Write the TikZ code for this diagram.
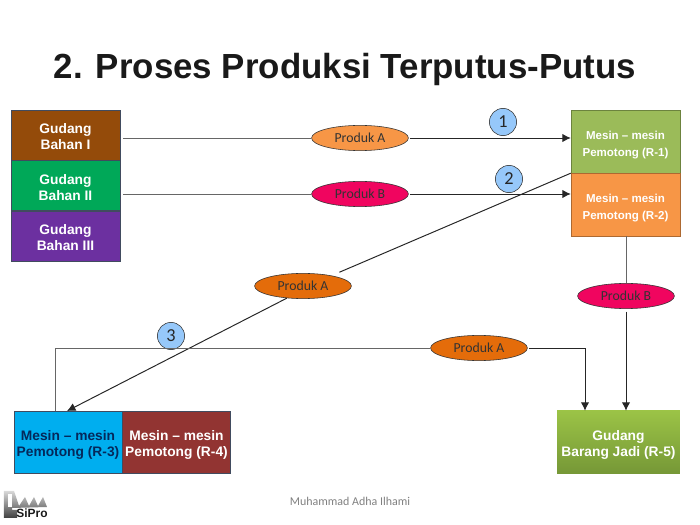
\documentclass[tikz,border=0pt]{standalone}
\usepackage{fontspec}
\setmainfont{Liberation Sans}
\newfontfamily\ovalfont{Carlito}
\usepackage{xcolor}
\definecolor{brownbox}{RGB}{148, 75, 10}
\definecolor{greenbox}{RGB}{0, 168, 88}
\definecolor{purplebox}{RGB}{108, 48, 160}
\definecolor{olivebox}{RGB}{155, 187, 89}
\definecolor{orangebox}{RGB}{247, 150, 70}
\definecolor{bluebox}{RGB}{0, 174, 239}
\definecolor{redbox}{RGB}{146, 52, 50}
\definecolor{pinkoval}{RGB}{240, 5, 95}
\definecolor{darkoval}{RGB}{228, 108, 10}
\definecolor{badgeblue}{RGB}{150, 200, 250}
\definecolor{titleblack}{RGB}{25, 25, 25}
\definecolor{slateline}{RGB}{65, 75, 95}
\definecolor{navytext}{RGB}{5, 40, 90}
\definecolor{jaditop}{RGB}{155, 195, 70}
\definecolor{jadibottom}{RGB}{118, 152, 55}
\newcommand{\topgap}[1]{\rule{0pt}{#1}}
\tikzset{
  boxA/.style={draw=#1!70!black, fill=#1, text=white, align=center, inner sep=0pt, font=\fontsize{9.8}{11.4}\selectfont\bfseries},
  oval/.style={ellipse, draw=black!80, fill=#1, minimum width=2.42cm, minimum height=0.63cm, inner sep=0pt, font=\ovalfont\fontsize{9.8}{11}\selectfont, text=black!80},
  badge/.style={circle, draw=black!80, fill=badgeblue, minimum size=0.68cm, inner sep=0pt, font=\ovalfont\fontsize{13}{15}\selectfont, text=black!85},
  wire/.style={draw=black!60, line width=0.7pt},
  tip/.style={draw=black!85, line width=0.7pt, -{Latex[length=6pt,width=6pt]}},
}
\usetikzlibrary{shapes.geometric,arrows.meta}
\begin{document}
\begin{tikzpicture}[x=0.025cm, y=-0.025cm]
  \useasboundingbox (0,0) rectangle (700,525);
  % Title
  \node[font=\fontsize{24.8}{30}\selectfont\bfseries, text=titleblack] (title) at (345,69) {2. Proses Produksi Terputus-Putus};

  % Gudang bahan
  \node[boxA=brownbox, draw=slateline, minimum width=2.72cm, minimum height=1.25cm] (gudangA) at (65.5,135) {\topgap{10pt}Gudang\\ Bahan I};
  \node[boxA=greenbox, draw=slateline, minimum width=2.72cm, minimum height=1.25cm] (gudangB) at (65.5,185.5) {\topgap{10pt}Gudang\\ Bahan II};
  \node[boxA=purplebox, draw=slateline, minimum width=2.72cm, minimum height=1.25cm] (gudangC) at (65.5,236) {\topgap{10pt}Gudang\\ Bahan III};

  % Mesin atas
  \node[boxA=olivebox, minimum width=2.72cm, minimum height=1.57cm, font=\fontsize{8.2}{11.4}\selectfont\bfseries] (mesinA) at (625.5,141.5) {\topgap{11pt}Mesin -- mesin\\ Pemotong (R-1)};
  \node[boxA=orangebox, minimum width=2.72cm, minimum height=1.57cm, font=\fontsize{8.2}{11.4}\selectfont\bfseries] (mesinB) at (625.5,204.5) {\topgap{11pt}Mesin -- mesin\\ Pemotong (R-2)};

  % Mesin bawah
  \node[boxA=bluebox, draw=slateline, text=navytext, minimum width=2.71cm, minimum height=1.55cm] (mesinC) at (68,442) {\topgap{11pt}Mesin -- mesin\\ Pemotong (R-3)};
  \node[boxA=redbox, draw=slateline, minimum width=2.71cm, minimum height=1.55cm] (mesinD) at (176.5,442) {\topgap{11pt}Mesin -- mesin\\ Pemotong (R-4)};

  % Gudang jadi
  \node[draw=none, top color=jaditop, bottom color=jadibottom, text=white, align=center, inner sep=0pt, minimum width=3.07cm, minimum height=1.55cm, font=\fontsize{9.8}{11.4}\selectfont\bfseries] (gudangJadi) at (618.5,442) {\topgap{11pt}Gudang\\ Barang Jadi (R-5)};

  % Produk
  \node[oval=orangebox] (produkA) at (360,138) {Produk A};
  \node[oval=pinkoval] (produkB) at (360,194) {Produk B};
  \node[oval=darkoval] (produkC) at (303,286) {Produk A};
  \node[oval=pinkoval] (produkD) at (626,296) {Produk B};
  \node[oval=darkoval] (produkE) at (479,348) {Produk A};

  % Nomor
  \node[badge] (nomorA) at (503,122) {1};
  \node[badge] (nomorB) at (509,179) {2};
  \node[badge] (nomorC) at (171,336) {3};

  % Titik bebas
  \coordinate (tipC) at (67,411);
  \coordinate (pojokA) at (55,348);
  \coordinate (pojokB) at (585,348);

  % Alur atas
  \draw[wire, shorten <=2pt] (gudangA.east |- produkA) -- (produkA);
  \draw[tip, shorten <=1pt] (produkA) -- (mesinA.west |- produkA);
  \draw[wire, shorten <=2pt] (gudangB.east |- produkB) -- (produkB);
  \draw[tip, shorten <=1pt] (produkB) -- (mesinB.west |- produkB);

  % Alur diagonal
  \draw[wire, draw=black!85, shorten >=6pt] (mesinA.south west) -- (produkC.20);
  \draw[tip] (produkC.217) -- (tipC);

  % Alur kanan
  \draw[wire] (mesinB.south -| produkD) -- (produkD);
  \draw[tip, shorten <=2pt] (produkD) -- (produkD |- gudangJadi.north);

  % Alur bawah
  \draw[wire] (pojokA |- mesinC.north) -- (pojokA) -- (produkE);
  \draw[tip, shorten <=1pt] (produkE) -- (pojokB) -- (pojokB |- gudangJadi.north);

  % Catatan kaki
  \node[font=\ovalfont\fontsize{8.5}{10}\selectfont, text=black!50] (penulis) at (350,501) {Muhammad Adha Ilhami};

  % Logo
  \shade[top color=black!15, bottom color=black!75] (4,491) -- (14,491) -- (19,506) -- (25,497) -- (29,506) -- (34,497) -- (38,506) -- (43,497) -- (47,507) -- (12,508) -- (12,510) -- (17,510) -- (17,518) -- (4,518) -- cycle;
  \fill[white] (8,494) -- (12,494) -- (12,507) -- (8,507) -- cycle;
  \node[font=\fontsize{8.5}{9}\selectfont\bfseries, text=black!90, inner sep=0pt] (logoTeks) at (32,513) {SiPro};
\end{tikzpicture}
\end{document}
